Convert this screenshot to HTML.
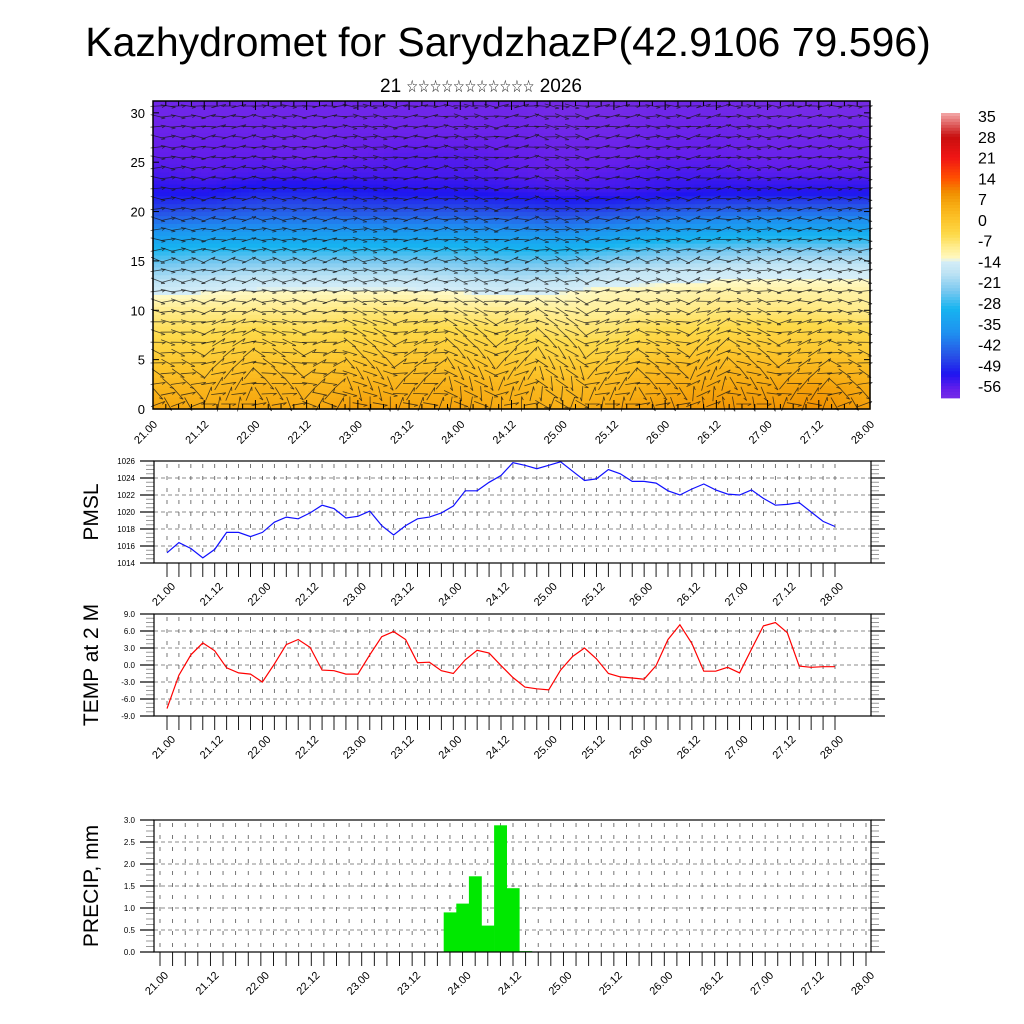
<!DOCTYPE html>
<html><head><meta charset="utf-8">
<style>
body{margin:0;background:#fff;}
svg{display:block;font-family:"Liberation Sans","DejaVu Sans",sans-serif;}
</style></head>
<body>
<svg id="chart" width="1024" height="1024" viewBox="0 0 1024 1024">
<text x="508" y="56" font-size="41" text-anchor="middle">Kazhydromet for SarydzhazP(42.9106 79.596)</text>
<text x="380" y="92" font-size="19">21 <tspan font-size="17" textLength="128" lengthAdjust="spacingAndGlyphs">☆☆☆☆☆☆☆☆☆☆☆</tspan> 2026</text>
<g id="top"></g>
<g id="cbar"></g>
<g id="pmsl"></g>
<g id="temp"></g>
<g id="precip"></g>
</svg>
<script>
const NS="http://www.w3.org/2000/svg";
// ---- data ----
const timeLabels=["21.00","21.12","22.00","22.12","23.00","23.12","24.00","24.12","25.00","25.12","26.00","26.12","27.00","27.12","28.00"];
const pmslValues=[1015.2,1016.4,1015.7,1014.6,1015.6,1017.6,1017.6,1017.1,1017.6,1018.8,1019.4,1019.2,1019.9,1020.8,1020.4,1019.3,1019.5,1020.1,1018.4,1017.3,1018.4,1019.2,1019.4,1019.9,1020.7,1022.5,1022.5,1023.5,1024.3,1025.8,1025.5,1025.1,1025.5,1025.9,1024.8,1023.7,1023.9,1025.0,1024.5,1023.6,1023.6,1023.4,1022.5,1022.0,1022.7,1023.3,1022.6,1022.1,1022.0,1022.6,1021.6,1020.8,1020.9,1021.1,1020.0,1018.9,1018.3];
const pmslTicks=[1014,1016,1018,1020,1022,1024,1026];
const tempValues=[-7.7,-1.8,1.8,3.9,2.5,-0.5,-1.4,-1.6,-3.0,0.2,3.6,4.5,3.1,-0.9,-1.0,-1.6,-1.6,1.8,5.0,5.9,4.5,0.4,0.5,-1.0,-1.5,0.9,2.6,2.1,-0.1,-2.2,-3.9,-4.2,-4.4,-0.9,1.5,3.0,1.1,-1.5,-2.1,-2.3,-2.5,-0.1,4.5,7.1,3.8,-1.1,-1.1,-0.4,-1.4,2.8,6.9,7.5,5.7,-0.2,-0.4,-0.3,-0.3];
const tempTicks=[-9,-6,-3,0,3,6,9];
const precipValues=[0,0,0,0,0,0,0,0,0,0,0,0,0,0,0,0,0,0,0,0,0,0,0,0.9,1.1,1.72,0.6,2.88,1.45,0.02,0,0,0,0,0,0,0,0,0,0,0,0,0,0,0,0,0,0,0,0,0,0,0,0,0,0,0];
const precipTicks=[0,0.5,1.0,1.5,2.0,2.5,3.0];
const heightTicks=[0,5,10,15,20,25,30];
const cbarLabels=[35,28,21,14,7,0,-7,-14,-21,-28,-35,-42,-49,-56];
const sectionHeights=[0,2,4,6,8,10,12,14,16,18,20,22,24,26,28,30];
const sectionTemps=[
[6,5,6,5,7,6,6,5,4,6,7,8,8,9,7],
[3,3,4,3,4,4,4,3,2,3,5,6,6,7,5],
[0,0,1,0,1,1,1,0,-1,0,2,3,3,3,2],
[-3,-3,-2,-3,-2,-2,-2,-3,-4,-4,-2,-1,-1,-1,-2],
[-6,-6,-5,-6,-5,-5,-5,-6,-7,-7,-5,-5,-4,-4,-5],
[-9,-9,-9,-9,-8,-8,-9,-9,-10,-10,-9,-8,-8,-8,-9],
[-15,-14,-13,-13,-13,-13,-14,-15,-14,-12,-12,-11,-11,-11,-11],
[-22,-21,-20,-20,-20,-20,-21,-22,-21,-18,-17,-16,-15,-15,-15],
[-29,-28,-28,-28,-28,-28,-28,-29,-29,-27,-25,-24,-23,-23,-23],
[-37,-36,-36,-36,-36,-36,-36,-37,-38,-36,-34,-33,-32,-32,-32],
[-46,-45,-44,-44,-45,-45,-45,-46,-47,-46,-44,-43,-42,-42,-42],
[-52,-52,-50,-50,-51,-52,-52,-53,-54,-54,-53,-52,-52,-52,-52],
[-55,-56,-55,-55,-55,-55,-55,-56,-57,-56,-55,-55,-56,-56,-56],
[-57,-57,-57,-58,-57,-56,-56,-57,-58,-58,-57,-57,-58,-58,-58],
[-58,-58,-58,-59,-58,-58,-58,-58,-59,-59,-58,-58,-59,-59,-59],
[-59,-59,-59,-59,-59,-59,-59,-59,-60,-60,-59,-59,-60,-60,-60]];
const windRowAngle=[40,-30,25,-20,15,-15,10,-10,8,-12,-15,10,-18,12,-20,15,-10,12,-15,10,-12,8,-10,12,-8,10,-12,8,-10,6];
const windColAngle=[20,-40,30,-20,50,-30,60,-50,70,-40,30,-60,40,-30,20];

function el(tag,attrs,parent,txt){const e=document.createElementNS(NS,tag);for(const k in attrs)e.setAttribute(k,attrs[k]);if(txt!==undefined)e.textContent=txt;parent.appendChild(e);return e;}
const cstops=[[-61,[122,46,230]],[-57,[100,30,235]],[-52,[30,20,240]],[-46,[40,80,230]],[-38,[30,145,240]],[-30,[22,180,240]],[-24,[120,200,240]],[-18,[190,227,244]],[-13.6,[214,238,248]],[-13.4,[255,250,200]],[-9,[255,236,140]],[-5,[253,218,74]],[0,[252,196,42]],[5,[247,171,18]],[9,[240,144,0]],[14,[255,80,0]],[21,[240,20,20]],[28,[200,15,15]],[36,[244,170,170]]];
function cmap(v){if(v<=cstops[0][0])return cstops[0][1];for(let i=1;i<cstops.length;i++){if(v<=cstops[i][0]){const a=cstops[i-1],b=cstops[i],t=(v-a[0])/(b[0]-a[0]);return a[1].map((c,j)=>Math.round(c+(b[1][j]-c)*t));}}return cstops[cstops.length-1][1];}
function rgb(c){return`rgb(${c[0]},${c[1]},${c[2]})`;}

(function(){
const g=document.getElementById('top');
const L=153,R=870,T=101,B=409;
const xs=i=>L+(R-L)*i/14;
const ys=h=>B-(B-T)*h/31.2;
const cells=el('g',{},g);


const nx=90,ny=78;
for(let a=0;a<nx;a++){for(let b=0;b<ny;b++){
 const fx=a/(nx-1)*14, fh=Math.min(30,b/(ny-1)*31.2)/2;
 const i0=Math.min(13,Math.floor(fx)),tx=fx-i0;
 const j0=Math.min(14,Math.floor(fh)),ty=fh-j0;
 const j1=Math.min(15,j0+1);
 const v=(sectionTemps[j0][i0]*(1-tx)+sectionTemps[j0][i0+1]*tx)*(1-ty)+(sectionTemps[j1][i0]*(1-tx)+sectionTemps[j1][i0+1]*tx)*ty;
 const x0=L+(R-L)*a/nx,y1=B-(B-T)*b/ny;
 const r=el('rect',{x:x0.toFixed(1),y:(y1-(B-T)/ny).toFixed(1),width:((R-L)/nx+0.6).toFixed(1),height:((B-T)/ny+0.6).toFixed(1),fill:rgb(cmap(v))},cells);
 
 
}}
const wg=el('g',{stroke:'#1a1a1a','stroke-width':'0.8','stroke-opacity':'0.8',fill:'none'},g);


const NC=71,NR=windRowAngle.length;
for(let c=0;c<NC;c++){for(let r=0;r<NR;r++){
 const cx=L+5+(R-L-10)*c/(NC-1), cy=B-5-(B-T-10)*r/(NR-1);
 const w=Math.max(0.15,1-r/13);
 const ang=(windRowAngle[r]*(c%2?1:-1)+windColAngle[Math.floor(c*15/NC)]*w)*Math.PI/180;
 const len=15;
 const dx=Math.cos(ang)*len/2,dy=Math.sin(ang)*len/2;
 const hx=cx+dx,hy=cy+dy,hl=4,ha=0.45;
 const p=el('path',{d:`M${(cx-dx).toFixed(1)},${(cy-dy).toFixed(1)}L${hx.toFixed(1)},${hy.toFixed(1)}M${(hx-hl*Math.cos(ang-ha)).toFixed(1)},${(hy-hl*Math.sin(ang-ha)).toFixed(1)}L${hx.toFixed(1)},${hy.toFixed(1)}`},wg);
 
 
}}
el('rect',{x:L,y:T,width:R-L,height:B-T,fill:'none',stroke:'#000','stroke-width':1.5},g);
heightTicks.forEach(h=>{const y=ys(h);el('line',{x1:L,x2:L+6,y1:y,y2:y,stroke:'#000'},g);el('line',{x1:R,x2:R-6,y1:y,y2:y,stroke:'#000'},g);
 const t=el('text',{x:L-8,y:y+5,'font-size':13,'text-anchor':'end'},g,String(h));});
for(let c=0;c<57;c++){const x=L+(R-L)*c/56;el('line',{x1:x,x2:x,y1:B,y2:B-(c%4?5:9),stroke:'#000'},g);el('line',{x1:x,x2:x,y1:T,y2:T+(c%4?5:9),stroke:'#000'},g);}
timeLabels.forEach((s,i)=>{const x=xs(i);const t=el('text',{x:x+5,y:B+16,'font-size':11,'text-anchor':'end',transform:`rotate(-45 ${x+5} ${B+16})`},g,s);});
})();

(function(){
const g=document.getElementById('cbar');
const T=113,B=398,vt=36,vb=-60;const yv=v=>T+(vt-v)/(vt-vb)*(B-T);
for(let v=vt;v>vb;v-=1){const r=el('rect',{x:941,y:yv(v).toFixed(1),width:19,height:((B-T)/(vt-vb)+0.4).toFixed(2),fill:rgb(cmap(v-0.5))},g);}
cbarLabels.forEach(v=>{const t=el('text',{x:978,y:yv(v)+6,'font-size':16},g,String(v));});
})();

function panel(id,cfg){
const g=document.getElementById(id);
const {L,R,T,B,x0,x1,vmin,vmax,ticks,fmt}=cfg;
const xs=i=>x0+(x1-x0)*i/56;
const ys=v=>B-(v-vmin)/(vmax-vmin)*(B-T);
ticks.forEach(v=>{if(v!==vmin&&v!==vmax)el('line',{x1:L,x2:R,y1:ys(v),y2:ys(v),stroke:'#666','stroke-width':0.8,'stroke-dasharray':'4 3'},g);});
for(let c=0;c<57;c++){el('line',{x1:xs(c),x2:xs(c),y1:T+3,y2:B-3,stroke:'#555','stroke-width':0.8,'stroke-dasharray':'4 8'},g);}
const nminor=(ticks.length-1)*4;
for(let k=0;k<=nminor;k++){const y=T+(B-T)*k/nminor;const maj=k%4===0;
 el('line',{x1:maj?L-14:L-8,x2:L,y1:y,y2:y,stroke:maj?'#000':'#999','stroke-width':maj?1.2:1},g);
 el('line',{x1:R,x2:maj?R+14:R+8,y1:y,y2:y,stroke:maj?'#000':'#999','stroke-width':maj?1.2:1},g);}
ticks.forEach(v=>{const t=el('text',{x:L-19,y:ys(v)+3,'font-size':8,'text-anchor':'end'},g,fmt(v));});
for(let c=0;c<57;c++){el('line',{x1:xs(c),x2:xs(c),y1:B,y2:B+14,stroke:'#000','stroke-width':0.9},g);}
timeLabels.forEach((s,i)=>{const x=xs(i*4)+9;const t=el('text',{x:x,y:B+24,'font-size':11,'text-anchor':'end',transform:`rotate(-45 ${x} ${B+24})`},g,s);});
const yt=el('text',{x:cfg.tx,y:(T+B)/2,'font-size':21,'text-anchor':'middle',transform:`rotate(-90 ${cfg.tx} ${(T+B)/2})`},g,cfg.title);


return {g,xs,ys};
}

(function(){
const {g,xs,ys}=panel('pmsl',{L:154,R:871,T:461,B:563,x0:167,x1:835,vmin:1014,vmax:1026,ticks:pmslTicks,fmt:v=>String(v),title:'PMSL',tx:98});
const p=el('polyline',{points:pmslValues.map((v,i)=>xs(i).toFixed(1)+','+ys(v).toFixed(1)).join(' '),fill:'none',stroke:'#1010ff','stroke-width':1.2},g);

el('rect',{x:154,y:461,width:717,height:102,fill:'none',stroke:'#000','stroke-width':1.2},g);
})();
(function(){
const {g,xs,ys}=panel('temp',{L:154,R:871,T:614,B:716,x0:167,x1:835,vmin:-9,vmax:9,ticks:tempTicks,fmt:v=>v.toFixed(1),title:'TEMP at 2 M',tx:98});
const p=el('polyline',{points:tempValues.map((v,i)=>xs(i).toFixed(1)+','+ys(v).toFixed(1)).join(' '),fill:'none',stroke:'#ff0000','stroke-width':1.2},g);

el('rect',{x:154,y:614,width:717,height:102,fill:'none',stroke:'#000','stroke-width':1.2},g);
})();
(function(){
const {g,xs,ys}=panel('precip',{L:154,R:871,T:820,B:952,x0:160,x1:866,vmin:0,vmax:3,ticks:precipTicks,fmt:v=>v.toFixed(1),title:'PRECIP, mm',tx:98});
const w=(866-160)/56;
precipValues.forEach((v,i)=>{if(v<=0)return;const r=el('rect',{x:(xs(i)-w/2).toFixed(1),y:ys(v).toFixed(1),width:(w+0.3).toFixed(1),height:(ys(0)-ys(v)).toFixed(1),fill:'#00e800'},g);
 });
el('rect',{x:154,y:820,width:717,height:132,fill:'none',stroke:'#000','stroke-width':1.2},g);
})();
</script>
</body></html>
